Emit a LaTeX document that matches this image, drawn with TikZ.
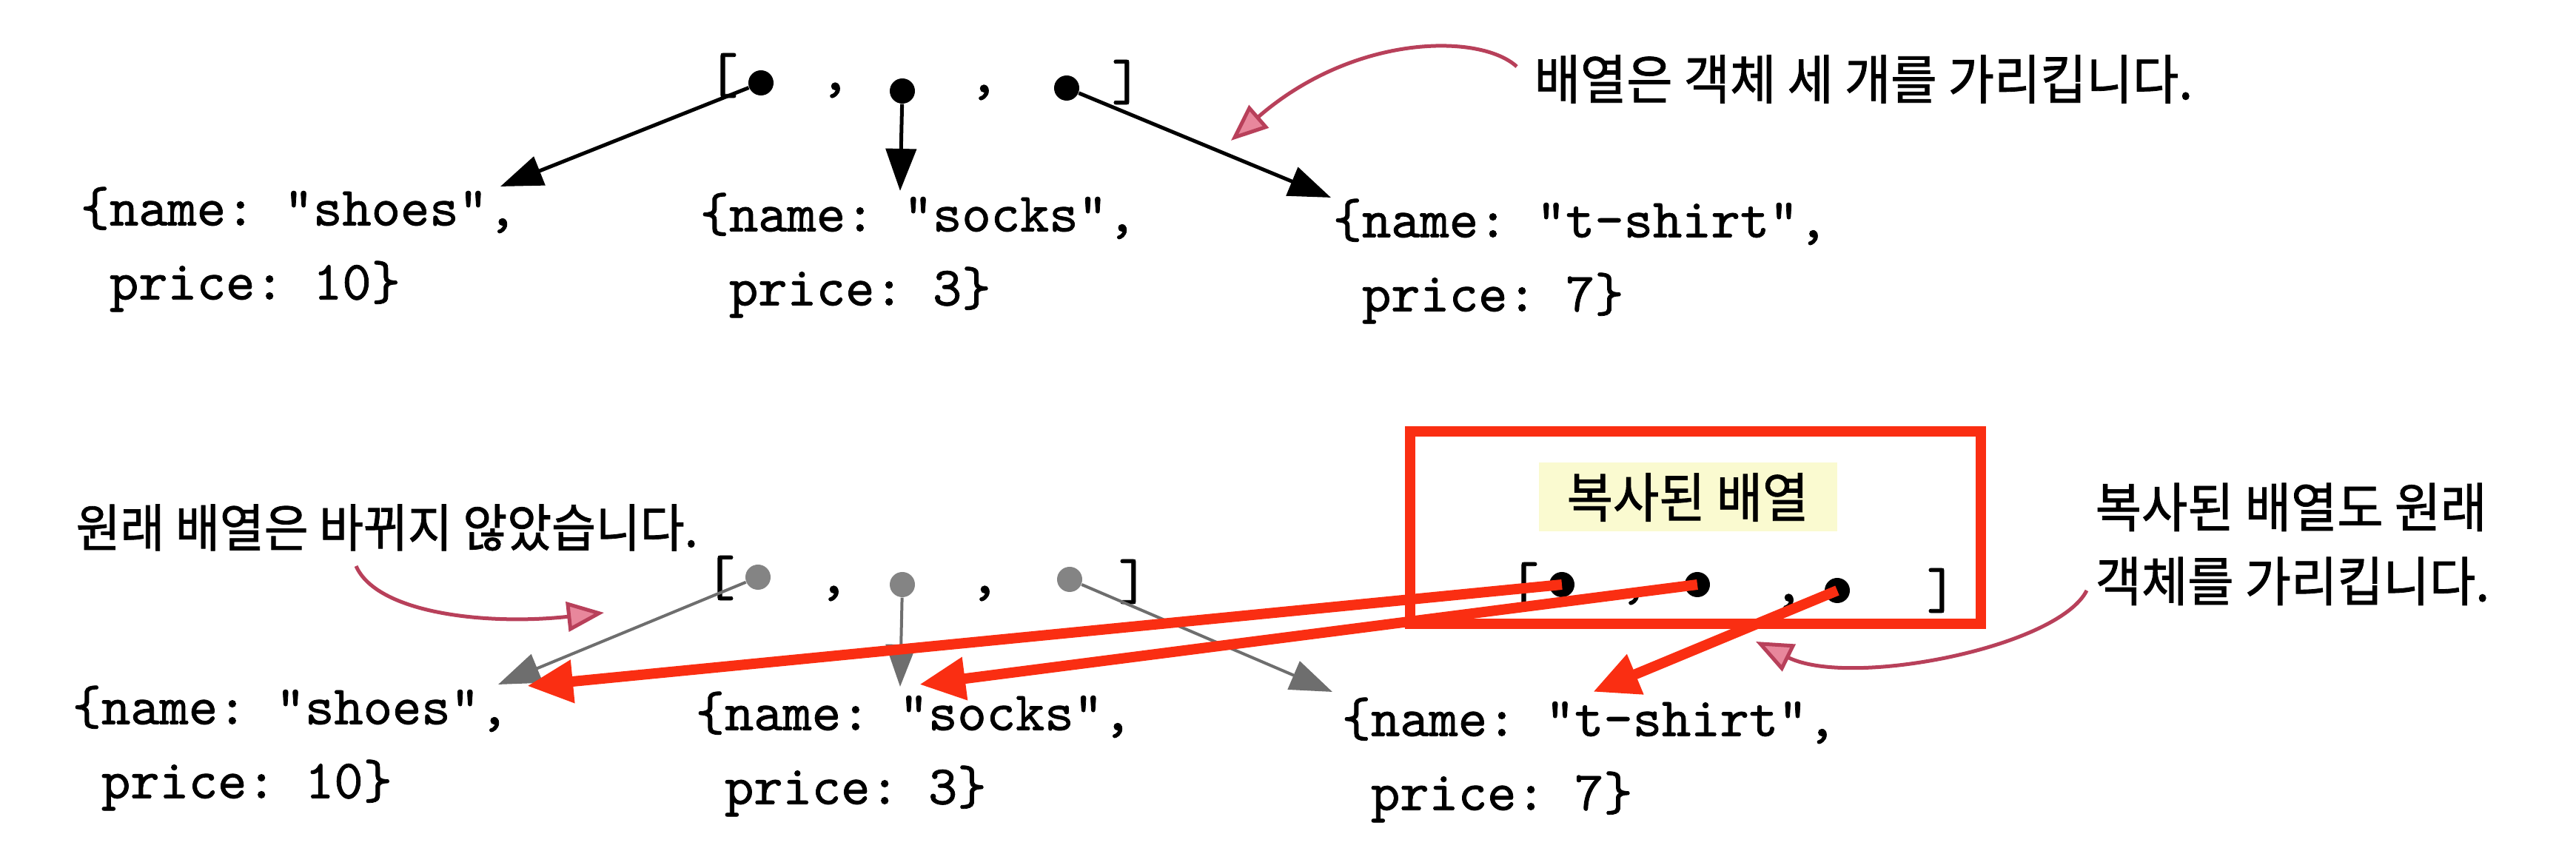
\documentclass[tikz,border=0pt]{standalone}
\usepackage{fontspec}
\setmonofont{lmmono10-regular.otf}[FakeBold=1]
\newfontfamily\krfont{Noto Sans CJK KR}[FakeBold=1.2, FakeStretch=0.94]
\usetikzlibrary{arrows.meta}
\definecolor{CopyRed}{HTML}{FA2E12}
\definecolor{NoteLine}{HTML}{B8405A}
\definecolor{NoteFill}{HTML}{E8879C}
\definecolor{HiYellow}{HTML}{FAFAD0}
\definecolor{OldGray}{HTML}{6E6E6E}

\tikzset{
  objcode/.style={font=\ttfamily\fontsize{21.3}{28.45}\selectfont, align=left, inner sep=0pt, anchor=north west},
  arrsyn/.style={font=\ttfamily\fontsize{22}{22}\selectfont, inner sep=0pt},
  memo/.style={font=\krfont\fontsize{20.5}{28.45}\selectfont, inner sep=0pt},
  elemdot/.style={circle, fill=black, inner sep=0pt, minimum size=0.34cm},
  olddot/.style={elemdot, fill=OldGray!85},
  ptr/.style={-{Triangle[length=0.57cm,width=0.41cm]}, line width=0.05cm},
  oldptr/.style={ptr, draw=OldGray, line width=0.04cm},
  copyptr/.style={-{Triangle[length=0.62cm,width=0.55cm]}, line width=0.14cm, draw=CopyRed},
  memoarrow/.style={-{Triangle[length=0.5cm,width=0.4cm,fill=NoteFill]}, line width=0.05cm, draw=NoteLine},
}

\begin{document}
\begin{tikzpicture}
\useasboundingbox[fill=white] (0,0) rectangle (34.80,-11.73);

% Original array
\node[arrsyn] (openA) at (9.77,-1.02) {[};
\node[elemdot] (elA1) at (10.28,-1.12) {};
\node[arrsyn] (commaA1) at (11.28,-1.22) {,};
\node[elemdot] (elA2) at (12.19,-1.23) {};
\node[arrsyn] (commaA2) at (13.29,-1.25) {,};
\node[elemdot] (elA3) at (14.41,-1.19) {};
\node[arrsyn] (closeA) at (15.22,-1.11) {]};

% Objects
\node[objcode] (shoesA) at (1.08,-2.52) {\{name: "shoes",\\\phantom{\{}price: 10\}};
\node[objcode] (socksA) at (9.45,-2.60) {\{name: "socks",\\\phantom{\{}price: 3\}};
\node[objcode] (shirtA) at (18.00,-2.68) {\{name: "t-shirt",\\\phantom{\{}price: 7\}};

% Pointers
\coordinate (inShoesA) at (6.76,-2.52);
\coordinate (inSocksA) at (12.16,-2.58);
\coordinate (inShirtA) at (17.98,-2.67);
\draw[ptr] (elA1) -- (inShoesA);
\draw[ptr] (elA2) -- (inSocksA);
\draw[ptr] (elA3) -- (inShirtA);

% Note
\node[memo, anchor=west] (topMemo) at (20.72,-1.07) {배열은 객체 세 개를 가리킵니다.};
\coordinate (topMemoTail) at (20.49,-0.90);
\coordinate (topMemoHead) at (16.63,-1.90);
\draw[memoarrow] (topMemoTail) .. controls (20.0,-0.45) and (18.3,-0.45) .. (topMemoHead);

% Original array after copy
\node[arrsyn] (openC) at (9.73,-7.81) {[};
\node[olddot] (elC1) at (10.24,-7.80) {};
\node[arrsyn] (commaC1) at (11.26,-8.02) {,};
\node[olddot] (elC2) at (12.19,-7.90) {};
\node[arrsyn] (commaC2) at (13.30,-8.02) {,};
\node[olddot] (elC3) at (14.45,-7.83) {};
\node[arrsyn] (closeC) at (15.31,-7.86) {]};

% Objects
\node[objcode] (shoesB) at (0.97,-9.26) {\{name: "shoes",\\\phantom{\{}price: 10\}};
\node[objcode] (socksB) at (9.39,-9.34) {\{name: "socks",\\\phantom{\{}price: 3\}};
\node[objcode] (shirtB) at (18.12,-9.42) {\{name: "t-shirt",\\\phantom{\{}price: 7\}};

% Old pointers
\coordinate (inShoesC) at (6.73,-9.25);
\coordinate (inSocksC) at (12.16,-9.28);
\coordinate (inShirtC) at (18.00,-9.35);
\draw[oldptr] (elC1) -- (inShoesC);
\draw[oldptr] (elC2) -- (inSocksC);
\draw[oldptr] (elC3) -- (inShirtC);

% Copied array
\node[draw=CopyRed, line width=0.14cm, minimum width=7.71cm, minimum height=2.60cm, inner sep=0pt] (copyBox) at (22.905,-7.13) {};
\node[memo, fill=HiYellow, minimum width=4.03cm, minimum height=0.93cm] (copyTitle) at (22.80,-6.72) {복사된 배열};
\node[arrsyn] (openB) at (20.59,-7.90) {[};
\node[elemdot] (elB1) at (21.10,-7.90) {};
\node[arrsyn] (commaB1) at (22.07,-8.07) {,};
\node[elemdot] (elB2) at (22.93,-7.90) {};
\node[arrsyn] (commaB2) at (24.16,-8.13) {,};
\node[elemdot] (elB3) at (24.82,-7.98) {};
\node[arrsyn] (closeB) at (26.23,-7.98) {]};

% Copied pointers
\coordinate (inShoesB) at (7.12,-9.27);
\coordinate (inSocksB) at (12.42,-9.25);
\coordinate (inShirtB) at (21.52,-9.35);
\draw[copyptr] (elB1.center) -- (inShoesB);
\draw[copyptr] (elB2.center) -- (inSocksB);
\draw[copyptr] (elB3.center) -- (inShirtB);

% Notes
\node[memo, anchor=west, font=\krfont\fontsize{19.7}{28.45}\selectfont] (leftMemo) at (1.02,-7.13) {원래 배열은 바뀌지 않았습니다.};
\coordinate (leftMemoTail) at (4.81,-7.65);
\coordinate (leftMemoHead) at (8.16,-8.28);
\draw[memoarrow] (leftMemoTail) .. controls (5.1,-8.3) and (6.6,-8.45) .. (leftMemoHead);

\node[memo, align=left, anchor=north west] (rightMemo) at (28.30,-6.52) {복사된 배열도 원래\\객체를 가리킵니다.};
\coordinate (rightMemoTail) at (28.19,-7.98);
\coordinate (rightMemoHead) at (23.72,-8.67);
\draw[memoarrow] (rightMemoTail) .. controls (27.8,-8.75) and (25.0,-9.3) .. (rightMemoHead);

\end{tikzpicture}
\end{document}
